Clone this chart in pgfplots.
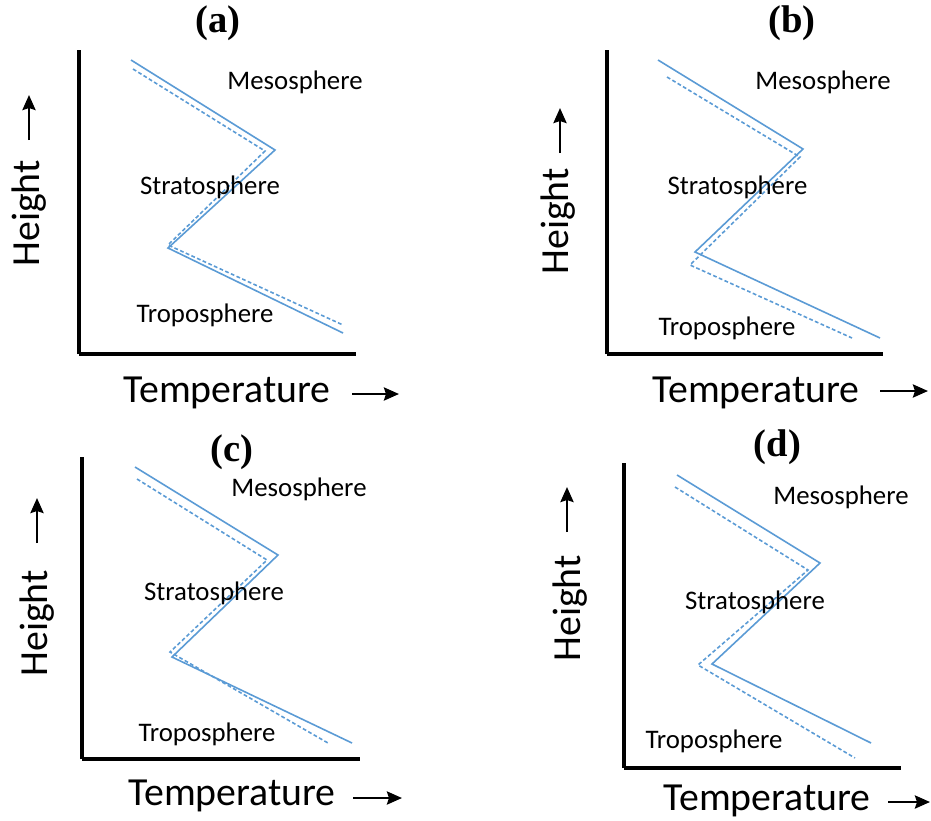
\documentclass[border=0pt]{standalone}
\usepackage{fontspec}
\setmainfont{Carlito}
\newfontfamily\titlefont{Liberation Serif}
\usepackage{pgfplots}
\pgfplotsset{compat=1.18}
\usetikzlibrary{arrows.meta}
\definecolor{lineblue}{RGB}{91,155,213}
\tikzset{lay/.style={font=\fontsize{13.4}{16}\selectfont, anchor=base, inner sep=0pt},
  larr/.style={line width=1.4pt, -{Stealth[length=7.5pt,width=6.5pt,inset=1pt]}}}
\pgfplotsset{
  panel/.style={scale only axis, enlargelimits=false, xmin=0, ymin=0,
    axis lines=left, axis line style={-, line width=2.2pt},
    xtick=\empty, ytick=\empty, clip=false, anchor=south west,
    title style={font=\titlefont\bfseries\fontsize{19.3}{23}\selectfont, anchor=center, yshift=-6pt, inner sep=0pt},
    xlabel style={font=\fontsize{19.9}{23}\selectfont, anchor=base west, inner sep=0pt},
    ylabel style={font=\fontsize{19.9}{23}\selectfont, anchor=base west, inner sep=0pt},
    xlabel={Temperature},
    ylabel={Height}},
  solidl/.style={lineblue, line width=0.8pt},
  dashl/.style={lineblue, line width=0.8pt, dash pattern=on 1.9pt off 1.2pt}
}
\begin{document}
\begin{tikzpicture}
\path[use as bounding box] (0,0) rectangle (465.5pt,-410pt);
% (a)
\begin{axis}[panel, at={(39.5pt,-177pt)}, width=138.5pt, height=152pt, xmax=277, ymax=304,
  title={(a)}, title style={at={(axis cs:139,331)}},
  xlabel style={at={(axis cs:44,-48)}}, ylabel style={at={(axis cs:-39,87)}}]
\addplot[solidl] coordinates {(52,294) (196,204) (89,106) (264,21)};
\addplot[dashl] coordinates {(54,285) (186,203) (89,109) (264,29)};
\node[lay] at (axis cs:216,265) {Mesosphere};
\node[lay] at (axis cs:131,160) {Stratosphere};
\node[lay] at (axis cs:126,32) {Troposphere};
\draw[larr] (axis cs:273,-40) -- (axis cs:320,-40);
\draw[larr] (axis cs:-50,214) -- (axis cs:-50,259);
\end{axis}
% (b)
\begin{axis}[panel, at={(303.5pt,-177pt)}, width=138pt, height=152pt, xmax=276, ymax=304,
  title={(b)}, title style={at={(axis cs:185,331)}},
  xlabel style={at={(axis cs:45,-48)}}, ylabel style={at={(axis cs:-39,79)}}]
\addplot[solidl] coordinates {(51,294) (196,205) (88,102) (273,16)};
\addplot[dashl] coordinates {(60,277) (193,197) (83,89) (245,16)};
\node[lay] at (axis cs:216,265) {Mesosphere};
\node[lay] at (axis cs:130.5,160) {Stratosphere};
\node[lay] at (axis cs:120,19) {Troposphere};
\draw[larr] (axis cs:273,-37) -- (axis cs:321,-37);
\draw[larr] (axis cs:-47,201) -- (axis cs:-47,246);
\end{axis}
% (c)
\begin{axis}[panel, at={(41pt,-379.5pt)}, width=139pt, height=151pt, xmax=278, ymax=302,
  title={(c)}, title style={at={(axis cs:150,307)}},
  xlabel style={at={(axis cs:46,-46)}}, ylabel style={at={(axis cs:-34,82)}}]
\addplot[solidl] coordinates {(53,292) (196,204) (90,102) (270,16)};
\addplot[dashl] coordinates {(55,280) (185,199) (88,107) (246,16)};
\node[lay] at (axis cs:217,263) {Mesosphere};
\node[lay] at (axis cs:132,159) {Stratosphere};
\node[lay] at (axis cs:125,18) {Troposphere};
\draw[larr] (axis cs:271,-39) -- (axis cs:320,-39);
\draw[larr] (axis cs:-45,216) -- (axis cs:-45,261);
\end{axis}
% (d)
\begin{axis}[panel, at={(312pt,-384pt)}, width=138.5pt, height=152.5pt, xmax=277, ymax=305,
  title={(d)}, title style={at={(axis cs:153.5,321)}},
  xlabel style={at={(axis cs:39,-42)}}, ylabel style={at={(axis cs:-44,106)}}]
\addplot[solidl] coordinates {(53,293) (196,205) (88,104) (247,25)};
\addplot[dashl] coordinates {(51,281) (184,198) (74,103) (231,10)};
\node[lay] at (axis cs:217,264) {Mesosphere};
\node[lay] at (axis cs:131,159) {Stratosphere};
\node[lay] at (axis cs:90,20) {Troposphere};
\draw[larr] (axis cs:264,-34) -- (axis cs:306,-34);
\draw[larr] (axis cs:-57,236) -- (axis cs:-57,281);
\end{axis}
\end{tikzpicture}
\end{document}
